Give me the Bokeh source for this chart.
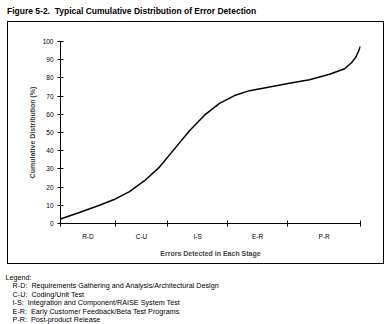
from bokeh.plotting import figure
from bokeh.layouts import column
from bokeh.models import Div, FixedTicker, Range1d
from bokeh.embed import file_html
from bokeh.resources import INLINE

# Stage codes along the lifecycle and the stage boundaries (percent of timeline)
stage_codes = ["R-D", "C-U", "I-S", "E-R", "P-R"]
stage_edges = [0, 18.3, 35.7, 55.7, 75.7, 100]

# Cumulative share of errors detected along the timeline
progress = [0, 6.3, 13, 18.3, 23, 28, 33, 38, 43, 48, 53, 58,
            63, 69.7, 76.3, 83, 89.7, 94.7, 97, 98.3, 99.3, 100]
cum_pct = [2.5, 6, 10, 13.5, 17.5, 23.5, 31, 41, 51, 59.5, 66, 70.3,
           73, 75, 77, 79, 82, 85, 88.3, 91, 94.5, 97.4]

y_ticks = list(range(0, 101, 10))

legend_lines = [
    ("R-D", "Requirements Gathering and Analysis/Architectural Design"),
    ("C-U", "Coding/Unit Test"),
    ("I-S", "Integration and Component/RAISE System Test"),
    ("E-R", "Early Customer Feedback/Beta Test Programs"),
    ("P-R", "Post-product Release"),
]

stage_centers = [(a + b) / 2 for a, b in zip(stage_edges[:-1], stage_edges[1:])]

p = figure(width=377, height=243, output_backend="svg", toolbar_location=None,
           x_range=Range1d(0, 100), y_range=Range1d(0, 100),
           min_border_left=52, min_border_right=25,
           min_border_top=19, min_border_bottom=42)
p.outline_line_color = None
p.grid.visible = False
p.background_fill_color = "white"
p.border_fill_color = "white"

p.line(progress, cum_pct, line_color="black", line_width=1.5, line_join="round")

# x axis: stage names at the middle of each stage, ticks at stage boundaries
xa = p.xaxis[0]
xa.ticker = FixedTicker(ticks=stage_centers, minor_ticks=stage_edges)
xa.major_label_overrides = {c: s for c, s in zip(stage_centers, stage_codes)}
xa.major_tick_in = 0
xa.major_tick_out = 0
xa.minor_tick_in = 3
xa.minor_tick_out = 3
xa.minor_tick_line_color = "black"
xa.axis_line_color = "black"
xa.major_label_text_font = "Liberation Sans"
xa.major_label_text_font_size = "6.5px"
xa.major_label_text_color = "black"
xa.major_label_standoff = 6
xa.axis_label = "Errors Detected in Each Stage"
xa.axis_label_text_font = "Liberation Sans"
xa.axis_label_text_font_style = "bold"
xa.axis_label_text_font_size = "7px"
xa.axis_label_standoff = 7

ya = p.yaxis[0]
ya.ticker = FixedTicker(ticks=y_ticks, minor_ticks=[])
ya.major_tick_in = 3
ya.major_tick_out = 3
ya.major_tick_line_color = "black"
ya.axis_line_color = "black"
ya.major_label_text_font = "Liberation Sans"
ya.major_label_text_font_size = "6.5px"
ya.major_label_text_color = "black"
ya.major_label_standoff = 4
ya.axis_label = "Cumulative Distribution (%)"
ya.axis_label_text_font = "Liberation Sans"
ya.axis_label_text_font_style = "bold"
ya.axis_label_text_font_size = "7px"
ya.axis_label_standoff = 4

p.margin = (0, 0, 0, 7)
p.styles = {"border": "1.5px solid black"}

title = Div(
    text=('<div style="font-family:\'Liberation Sans\';font-weight:bold;'
          'font-size:8.5px;color:black;white-space:pre;padding:5px 0 0 7px;">'
          'Figure 5-2.  Typical Cumulative Distribution of Error Detection</div>'),
    width=388, height=21, margin=(0, 0, 0, 0))

rows = ['<div>Legend:</div>']
for code, name in legend_lines:
    rows.append(f'<div style="padding-left:8px;white-space:pre;">{code}:  {name}</div>')
legend = Div(
    text=('<div style="font-family:\'Liberation Sans\';font-size:8px;line-height:8.4px;'
          'color:black;padding:10px 0 0 6px;transform:scaleX(0.9);'
          'transform-origin:0 0;">' + "".join(rows) + '</div>'),
    width=388, height=57, margin=(0, 0, 0, 0))

layout = column(title, p, legend, spacing=0)

open("out.html", "w").write(file_html(layout, INLINE))
